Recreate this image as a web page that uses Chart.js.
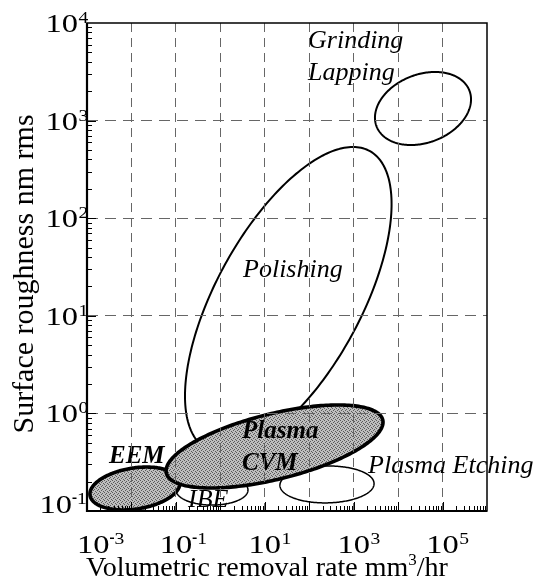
<!DOCTYPE html>
<html>
<head>
<meta charset="utf-8">
<script src="https://cdn.jsdelivr.net/npm/chart.js@4/dist/chart.umd.min.js"></script>
<style>
  html, body { margin: 0; padding: 0; background: #ffffff; }
  #wrap { width: 537px; height: 579px; }
</style>
</head>
<body>
<div id="wrap"><canvas id="chart" width="537" height="579"></canvas></div>
<script>
// Machining process windows: surface roughness (nm rms) vs volumetric removal rate (mm^3/hr)
const processNames = ['Grinding / Lapping', 'Polishing', 'Plasma Etching', 'IBE', 'EEM', 'Plasma CVM'];

// centre of each process window
const centerRate      = [3.63e4, 33.8, 251, 0.65, 0.0120, 16.6];
const centerRoughness = [1330, 14.5, 0.187, 0.164, 0.170, 0.458];
// rim point where the window reaches its highest roughness
const topRate      = [6.76e4, 966, 279, 0.65, 0.0218, 445];
const topRoughness = [3150, 537, 0.289, 0.234, 0.282, 1.22];
// rim point on the centre-roughness level, high-rate side
const sideRate      = [4.04e5, 2190, 2870, 4.19, 0.1146, 1580];
const sideRoughness = [1330, 14.5, 0.187, 0.164, 0.170, 0.458];

// label text and its anchor (left end of the first baseline)
const labelLines     = [['Grinding', 'Lapping'], ['Polishing'], ['Plasma Etching'], ['IBE'], ['EEM'], ['Plasma', 'CVM']];
const labelRate      = [94.0, 3.24, 2104, 0.1875, 0.00313, 3.07];
const labelRoughness = [5546, 25.0, 0.245, 0.110, 0.310, 0.560];

// axes
const xMin = 1e-3, xMax = 1e6;
const yMin = 1e-1, yMax = 1e4;
const xGridExponents = [-3, -2, -1, 0, 1, 2, 3, 4, 5, 6];
const yGridExponents = [-1, 0, 1, 2, 3, 4];
const xTickExponents = [-3, -1, 1, 3, 5];
const yTickExponents = [-1, 0, 1, 2, 3, 4];

// drawing styles per window
const regionStyle = [
  { width: 2.0, fill: false, bold: false },
  { width: 2.0, fill: false, bold: false },
  { width: 1.5, fill: false, bold: false },
  { width: 1.5, fill: false, bold: false },
  { width: 3.6, fill: true,  bold: true  },
  { width: 3.6, fill: true,  bold: true  }
];

const SERIF = '"Liberation Serif", "Times New Roman", serif';
const GRID_COLOR = '#666666';

function halftone(ctx) {
  const p = document.createElement('canvas');
  p.width = 4; p.height = 4;
  const g = p.getContext('2d');
  g.fillStyle = '#bebebe';
  g.fillRect(0, 0, 4, 4);
  g.fillStyle = '#5a5a5a';
  [[0, 0], [2, 1], [1, 2], [3, 3]].forEach(([x, y]) => g.fillRect(x, y, 1, 1));
  return ctx.createPattern(p, 'repeat');
}

function regionPath(ctx, xs, ys, i) {
  const cx = xs.getPixelForValue(centerRate[i]);
  const cy = ys.getPixelForValue(centerRoughness[i]);
  const ax = xs.getPixelForValue(topRate[i]) - cx;
  const ay = ys.getPixelForValue(topRoughness[i]) - cy;
  const bx = xs.getPixelForValue(sideRate[i]) - cx;
  const by = ys.getPixelForValue(sideRoughness[i]) - cy;
  const n = 240;
  ctx.beginPath();
  for (let k = 0; k <= n; k++) {
    const t = (k / n) * Math.PI * 2;
    const px = cx + Math.cos(t) * ax + Math.sin(t) * bx;
    const py = cy + Math.cos(t) * ay + Math.sin(t) * by;
    if (k === 0) ctx.moveTo(px, py); else ctx.lineTo(px, py);
  }
  ctx.closePath();
}

const processWindows = {
  id: 'processWindows',
  afterDatasetsDraw(chart) {
    const ctx = chart.ctx;
    const xs = chart.scales.x, ys = chart.scales.y;
    const area = chart.chartArea;
    const fillPattern = halftone(ctx);
    ctx.save();
    ctx.beginPath();
    ctx.rect(area.left, area.top, area.right - area.left, area.bottom - area.top);
    ctx.clip();
    processNames.forEach((name, i) => {
      const st = regionStyle[i];
      regionPath(ctx, xs, ys, i);
      if (st.fill) {
        ctx.fillStyle = fillPattern;
        ctx.fill();
      }
      ctx.lineWidth = st.width;
      ctx.strokeStyle = '#000000';
      ctx.lineJoin = 'round';
      ctx.stroke();
    });
    ctx.restore();

    // window labels
    ctx.save();
    ctx.fillStyle = '#000000';
    ctx.textAlign = 'left';
    ctx.textBaseline = 'alphabetic';
    processNames.forEach((name, i) => {
      const st = regionStyle[i];
      ctx.font = st.bold ? ('italic bold 25px ' + SERIF) : ('italic 26px ' + SERIF);
      const x = xs.getPixelForValue(labelRate[i]);
      const y = ys.getPixelForValue(labelRoughness[i]);
      labelLines[i].forEach((line, j) => ctx.fillText(line, x, y + j * 32));
    });
    ctx.restore();
  },
  afterDraw(chart) {
    const ctx = chart.ctx;
    const xs = chart.scales.x, ys = chart.scales.y;
    const a = chart.chartArea;
    ctx.save();
    ctx.strokeStyle = '#000000';

    // minor and major tick marks, pointing inward on left and bottom axes
    ctx.lineWidth = 1;
    ctx.beginPath();
    for (let e = -3; e < 6; e++) {
      for (let k = 1; k <= 9; k++) {
        const v = k * Math.pow(10, e);
        const px = Math.round(xs.getPixelForValue(v)) + 0.5;
        const len = k === 1 ? 9 : 5;
        ctx.moveTo(px, a.bottom);
        ctx.lineTo(px, a.bottom - len);
      }
    }
    for (let e = -1; e < 4; e++) {
      for (let k = 1; k <= 9; k++) {
        const v = k * Math.pow(10, e);
        const py = Math.round(ys.getPixelForValue(v)) + 0.5;
        const len = k === 1 ? 9 : 5;
        ctx.moveTo(a.left, py);
        ctx.lineTo(a.left + len, py);
      }
    }
    ctx.stroke();

    // plot frame
    ctx.lineWidth = 1.5;
    ctx.strokeRect(a.left, a.top, a.right - a.left, a.bottom - a.top);
    ctx.lineWidth = 2.2;
    ctx.beginPath();
    ctx.moveTo(a.left, a.top);
    ctx.lineTo(a.left, a.bottom);
    ctx.lineTo(a.right, a.bottom);
    ctx.stroke();

    // power-of-ten tick labels: wide "10" with a raised exponent
    ctx.fillStyle = '#000000';
    ctx.textAlign = 'left';
    const sx = 1.3;
    function power(exp, x, y, anchor, minLeft) {
      ctx.font = '25px ' + SERIF;
      const w = ctx.measureText('10').width * sx;
      let x0 = anchor === 'center' ? x - w / 2 : x - w;
      if (minLeft !== undefined) x0 = Math.max(x0, minLeft);
      ctx.save();
      ctx.translate(x0, y);
      ctx.scale(sx, 1);
      ctx.fillText('10', 0, 0);
      ctx.restore();
      let ex = x0 + w + 0.5;
      const ey = y - 9;
      if (exp < 0) {
        ctx.fillRect(ex, ey - 6.5, 4, 1.5);
        ex += 4.5;
      }
      ctx.save();
      ctx.translate(ex, ey);
      ctx.scale(1.15, 1);
      ctx.font = '17px ' + SERIF;
      ctx.fillText(String(Math.abs(exp)), 0, 0);
      ctx.restore();
    }
    xTickExponents.forEach(e => {
      power(e, xs.getPixelForValue(Math.pow(10, e)), a.bottom + 42, 'center', 77);
    });
    yTickExponents.forEach(e => {
      const py = ys.getPixelForValue(Math.pow(10, e));
      const right = e < 0 ? 72 : 78;
      power(e, right, Math.min(py + 9, a.bottom + 2), 'right');
    });

    // axis titles
    ctx.font = '28px ' + SERIF;
    const main = 'Volumetric removal rate mm', sup = '3', tail = '/hr';
    const wMain = ctx.measureText(main).width;
    const wTail = ctx.measureText(tail).width;
    ctx.font = '17px ' + SERIF;
    const wSup = ctx.measureText(sup).width;
    let tx = 267 - (wMain + wSup + wTail) / 2;
    const ty = a.bottom + 65;
    ctx.font = '28px ' + SERIF;
    ctx.fillText(main, tx, ty);
    tx += wMain;
    ctx.font = '17px ' + SERIF;
    ctx.fillText(sup, tx, ty - 11);
    tx += wSup;
    ctx.font = '28px ' + SERIF;
    ctx.fillText(tail, tx, ty);

    ctx.save();
    ctx.translate(33, 274);
    ctx.rotate(-Math.PI / 2);
    ctx.font = '30px ' + SERIF;
    ctx.textAlign = 'center';
    ctx.fillText('Surface roughness nm rms', 0, 0);
    ctx.restore();

    ctx.restore();
  }
};

function decadeTicks(exps) {
  return exps.map(e => ({ value: Math.pow(10, e) }));
}

function interiorGrid(lo, hi) {
  return (c) => {
    const v = c.tick ? c.tick.value : NaN;
    return (v <= lo * 1.0001 || v >= hi * 0.9999) ? 'rgba(0,0,0,0)' : GRID_COLOR;
  };
}

new Chart(document.getElementById('chart'), {
  type: 'scatter',
  data: {
    datasets: [{
      label: 'Process window centres',
      data: processNames.map((n, i) => ({ x: centerRate[i], y: centerRoughness[i] })),
      pointRadius: 0,
      pointHoverRadius: 0,
      showLine: false
    }]
  },
  options: {
    responsive: false,
    animation: false,
    devicePixelRatio: 1,
    events: [],
    layout: { padding: { left: 0, top: 23, right: 50, bottom: 0 } },
    plugins: { legend: { display: false }, tooltip: { enabled: false } },
    scales: {
      x: {
        type: 'logarithmic',
        position: 'bottom',
        min: xMin,
        max: xMax,
        afterBuildTicks: s => { s.ticks = decadeTicks(xGridExponents); },
        afterFit: s => { s.height = 68; },
        ticks: { display: false },
        grid: { drawTicks: false, z: 1, lineWidth: 1, color: interiorGrid(xMin, xMax) },
        border: { display: false, dash: [9, 6] }
      },
      y: {
        type: 'logarithmic',
        position: 'left',
        min: yMin,
        max: yMax,
        afterBuildTicks: s => { s.ticks = decadeTicks(yGridExponents); },
        afterFit: s => { s.width = 87; },
        ticks: { display: false },
        grid: { drawTicks: false, z: 1, lineWidth: 1, color: interiorGrid(yMin, yMax) },
        border: { display: false, dash: [11, 7] }
      }
    }
  },
  plugins: [processWindows]
});
</script>
</body>
</html>
